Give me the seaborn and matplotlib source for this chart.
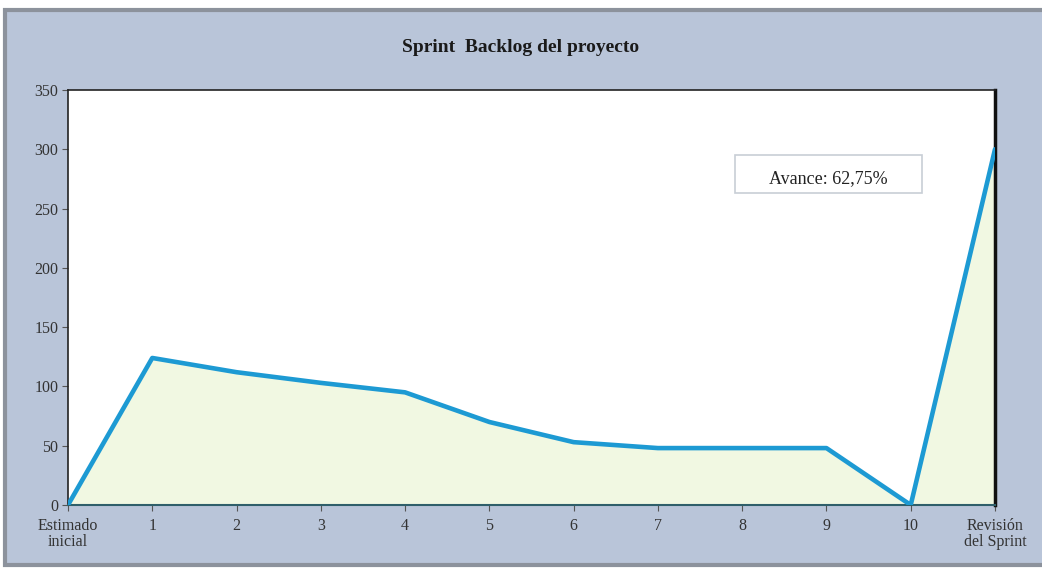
import matplotlib
matplotlib.use("Agg")
import matplotlib.pyplot as plt
import seaborn as sns
import pandas as pd
from matplotlib.patches import Rectangle

# Sprint backlog data
categories = ["Estimado\ninicial", "1", "2", "3", "4", "5", "6", "7", "8", "9", "10", "Revisión\ndel Sprint"]
remaining = [0, 124, 112, 103, 95, 70, 53, 48, 48, 48, 0, 300]
y_ticks = [0, 50, 100, 150, 200, 250, 300, 350]
progress_label = "Avance: 62,75%"

sns.set_theme(style="white")
plt.rcParams["font.family"] = ["Liberation Serif", "DejaVu Serif"]

fig = plt.figure(figsize=(10.42, 5.69), dpi=100, facecolor="white")

# Outer chart panel, kept behind the axes
panel = Rectangle((5 / 1042, 4 / 569), 1040 / 1042, 555 / 569, transform=fig.transFigure,
                  facecolor="#B9C5D9", edgecolor="#8C929C", linewidth=3, zorder=-10)
fig.patches.append(panel)

ax = fig.add_axes([68 / 1042, 1 - 505 / 569, 927 / 1042, 415 / 569])
ax.set_zorder(1)
ax.set_facecolor("white")

df = pd.DataFrame({"pos": range(len(categories)), "valor": remaining})
ax.fill_between(df["pos"], df["valor"], 0, color="#F1F8E2", zorder=1)
sns.lineplot(data=df, x="pos", y="valor", ax=ax, color="#1D9AD3", linewidth=3.3, zorder=3)

ax.set_xlim(0, len(categories) - 1)
ax.set_ylim(0, 350)
ax.set_xticks(range(len(categories)))
ax.set_xticklabels(categories, fontsize=11.5, color="#333333", linespacing=1.0)
ax.set_yticks(y_ticks)
ax.set_yticklabels([str(v) for v in y_ticks], fontsize=11.5, color="#333333")
ax.set_xlabel("")
ax.set_ylabel("")
ax.tick_params(axis="both", which="both", direction="out", length=4, width=0.8,
               color="#555555", left=True, bottom=True)
ax.tick_params(axis="x", pad=5)
ax.tick_params(axis="y", pad=3)

for side in ["top", "left"]:
    ax.spines[side].set_color("#222222")
    ax.spines[side].set_linewidth(1.2)
ax.spines["bottom"].set_color("#2F5F6A")
ax.spines["bottom"].set_linewidth(1.5)
ax.spines["right"].set_color("#111111")
ax.spines["right"].set_linewidth(2.5)

# Progress callout
ax.add_patch(Rectangle((0.7195, 0.752), 0.2015, 0.091, transform=ax.transAxes,
                       facecolor="white", edgecolor="#C8CED6", linewidth=1.2, zorder=5))
ax.text(0.82, 0.786, progress_label, transform=ax.transAxes, ha="center", va="center",
        fontsize=13, color="#222222", zorder=6)

fig.text(0.5, 1 - 47 / 569, "Sprint  Backlog del proyecto", ha="center", va="center",
         fontsize=14, fontweight="bold", color="#1A1A1A")

fig.savefig("out.png", dpi=100, facecolor=fig.get_facecolor())
